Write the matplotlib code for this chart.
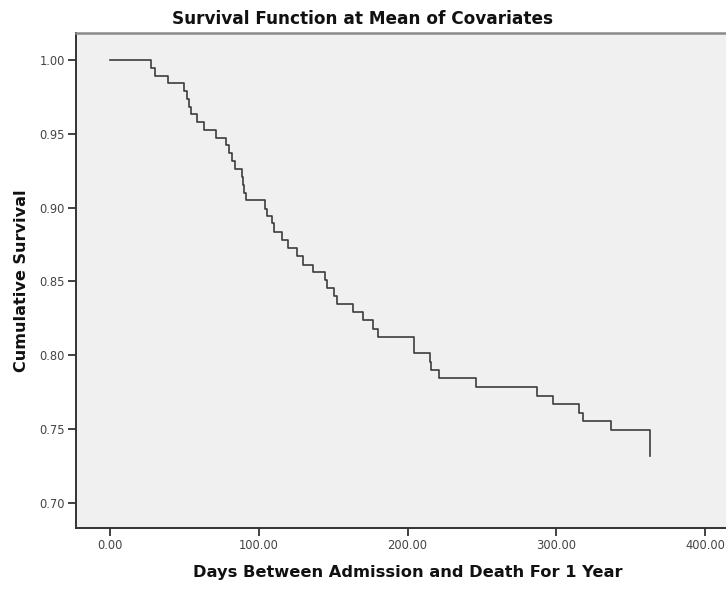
import matplotlib

matplotlib.use("Agg")
import matplotlib.pyplot as plt
import numpy as np

# event times (days) and survival just after each event
event_days = [
    0.0, 27.4, 30.3, 38.9, 50.0, 51.6, 53.1, 54.3, 58.7, 63.2, 71.3, 77.8,
    80.0, 81.8, 84.0, 88.5, 89.1, 90.3, 91.2, 104.2, 105.3, 108.7, 110.4,
    115.4, 119.9, 125.5, 130.0, 136.7, 144.5, 145.7, 150.6, 152.8, 163.6,
    170.3, 176.6, 180.4, 204.6, 215.3, 216.0, 221.4, 246.1, 286.9, 297.6,
    315.5, 317.8, 336.8, 362.6,
]
survival = [
    1.0000, 0.9946, 0.9895, 0.9844, 0.9788, 0.9738, 0.9683, 0.9634, 0.9582,
    0.9526, 0.9475, 0.9421, 0.9370, 0.9314, 0.9265, 0.9209, 0.9153, 0.9101,
    0.9050, 0.8990, 0.8945, 0.8893, 0.8838, 0.8782, 0.8728, 0.8670, 0.8614,
    0.8565, 0.8509, 0.8457, 0.8402, 0.8348, 0.8292, 0.8236, 0.8180, 0.8125,
    0.8013, 0.7952, 0.7901, 0.7843, 0.7787, 0.7726, 0.7669, 0.7610, 0.7553,
    0.7495, 0.7315,
]
x_ticks = [0, 100, 200, 300, 400]
y_ticks = [0.70, 0.75, 0.80, 0.85, 0.90, 0.95, 1.00]

W, H = 726, 589
fig = plt.figure(figsize=(W / 100, H / 100), dpi=100)
fig.patch.set_facecolor("white")

left, right, top, bottom = 76, 726, 33, 528
ax = fig.add_axes([left / W, (H - bottom) / H, (right - left) / W, (bottom - top) / H])
ax.set_facecolor("#f0f0f0")

ax.plot(event_days, survival, drawstyle="steps-post", color="#3c3c3c", linewidth=1.2)

ax.set_xlim(-22.9, 414)
ax.set_ylim(0.683, 1.0183)
ax.set_xticks(x_ticks)
ax.set_xticklabels([f"{v:.2f}" for v in x_ticks])
ax.set_yticks(y_ticks)
ax.set_yticklabels([f"{v:.2f}" for v in y_ticks])
ax.tick_params(axis="both", direction="out", length=6, width=1.3, color="#333333",
               labelsize=8.3, labelcolor="#444444", pad=2)

for side in ("left", "bottom"):
    ax.spines[side].set_color("#333333")
    ax.spines[side].set_linewidth(1.4)
ax.spines["top"].set_color("#8a8a8a")
ax.spines["top"].set_linewidth(1.8)
ax.spines["right"].set_visible(False)

fig.text(363 / W, 1 - 19 / H, "Survival Function at Mean of Covariates",
         ha="center", va="center", fontsize=12.2, fontweight="bold", color="#111111")
fig.text(408 / W, 1 - 572 / H, "Days Between Admission and Death For 1 Year",
         ha="center", va="center", fontsize=11.7, fontweight="bold", color="#111111")
fig.text(22 / W, 1 - 281 / H, "Cumulative Survival", rotation=90,
         ha="center", va="center", fontsize=11.6, fontweight="bold", color="#111111")

fig.savefig("out.png", dpi=100)
